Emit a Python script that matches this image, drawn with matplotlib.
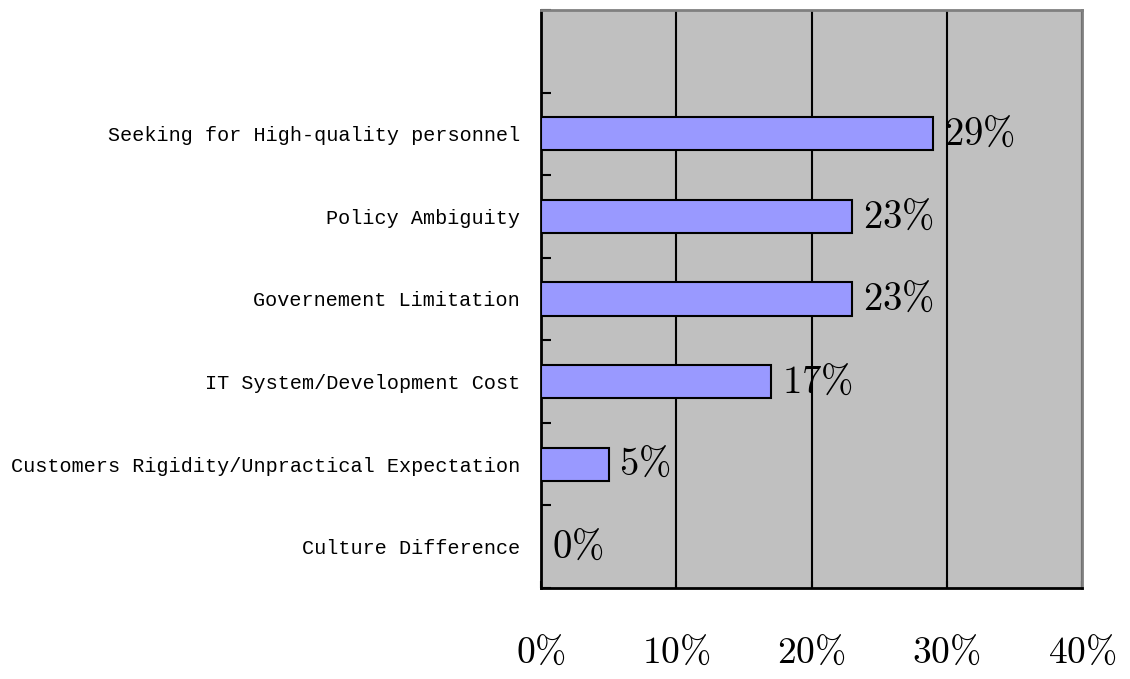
import matplotlib
matplotlib.use("Agg")
import matplotlib.pyplot as plt
from matplotlib.ticker import FixedLocator
import numpy as np

# data, bottom to top
categories = ['Culture Difference',
              'Customers Rigidity/Unpractical Expectation',
              'IT System/Development Cost',
              'Governement Limitation',
              'Policy Ambiguity',
              'Seeking for High-quality personnel']
values = [0, 5, 17, 23, 23, 29]
xticks = [0, 10, 20, 30, 40]

plt.rcParams['mathtext.fontset'] = 'cm'

fig = plt.figure(figsize=(11.3, 6.79), dpi=100)
ax = fig.add_axes([541 / 1130, 1 - 588 / 679, 541 / 1130, 578 / 679])
ax.set_facecolor('#C0C0C0')

y = np.arange(len(categories))
ax.barh(y, values, height=0.4, color='#9999FF', edgecolor='black',
        linewidth=1.5, zorder=3)

# value labels
for yi, v in zip(y, values):
    ax.text(v + 0.8, yi, f'${v}\\%$', fontsize=28, va='center', ha='left',
            zorder=4)

ax.set_xlim(0, 40)
ax.set_ylim(-0.5, len(categories) + 0.5)

ax.set_xticks(xticks)
ax.set_xticklabels([f'${t}\\%$' for t in xticks], fontsize=27)
ax.tick_params(axis='x', direction='in', length=5, width=1.5, pad=34,
               color='black')
ax.xaxis.grid(True, color='black', linewidth=1.5, zorder=1)

ax.set_yticks(y)
ax.set_yticklabels(categories, family='Liberation Mono', fontsize=14.5)
ax.tick_params(axis='y', which='major', length=0, pad=15)
ax.yaxis.set_minor_locator(FixedLocator(np.arange(-0.5, len(categories) + 1, 1)))
ax.tick_params(axis='y', which='minor', direction='in', length=7, width=1.5,
               color='black')

for side in ['left', 'bottom']:
    ax.spines[side].set_color('black')
    ax.spines[side].set_linewidth(2)
for side in ['top', 'right']:
    ax.spines[side].set_color('#808080')
    ax.spines[side].set_linewidth(2)

fig.savefig('out.png', dpi=100)
